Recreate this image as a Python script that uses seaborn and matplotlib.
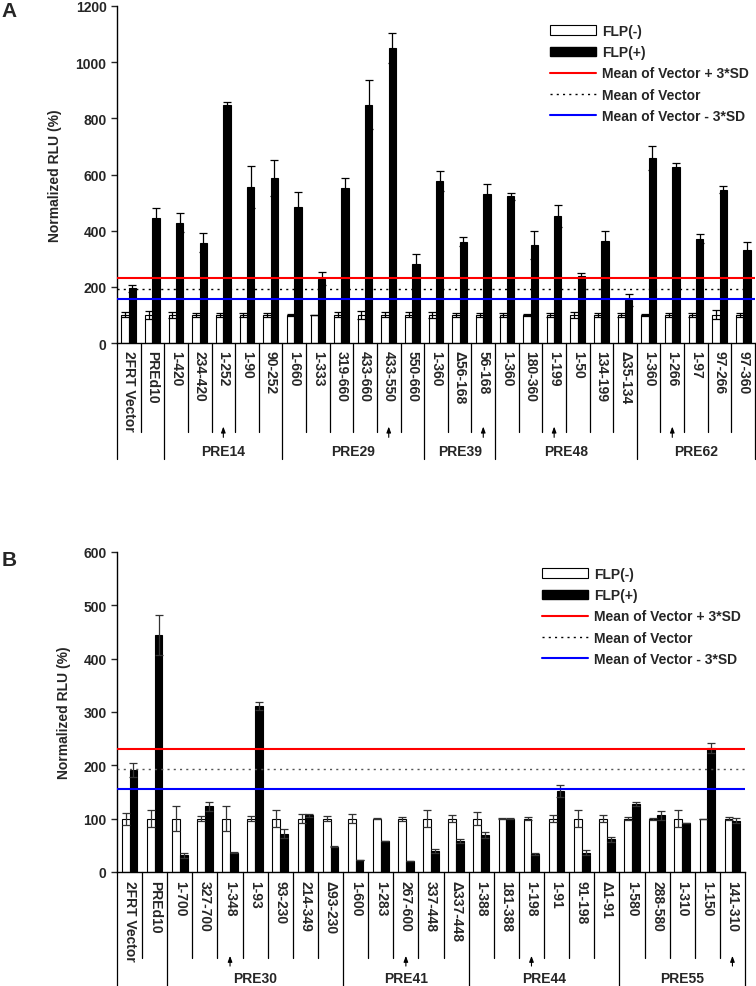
import matplotlib
matplotlib.use("Agg")
import matplotlib.pyplot as plt
import numpy as np
import pandas as pd
import seaborn as sns
from matplotlib.lines import Line2D
from matplotlib.patches import Patch

# ---- panel A data ----
A_labels = ['2FRT Vector', 'PREd10',
            '1-420', '234-420', '1-252', '1-90', '90-252',
            '1-660', '1-333', '319-660', '433-660', '433-550', '550-660',
            '1-360', 'Δ56-168', '56-168',
            '1-360', '180-360', '1-199', '1-50', '134-199', 'Δ35-134',
            '1-360', '1-266', '1-97', '97-266', '97-360']
A_groups = [('', 0, 1), ('PRE14', 2, 6), ('PRE29', 7, 12), ('PRE39', 13, 15),
            ('PRE48', 16, 21), ('PRE62', 22, 26)]
A_arrows = [4, 11, 15, 18, 23]
A_neg = [100] * 27
A_neg_sd = [9, 14, 12, 7, 7, 8, 8, 3, 1, 9, 14, 9, 9, 11, 7, 8, 8, 3, 8, 10, 8, 8, 3, 8, 8, 16, 8]
A_pos = [195, 445, 428, 357, 849, 555, 589, 484, 229, 552, 849, 1050, 282,
         576, 360, 532, 522, 350, 451, 239, 363, 152, 659, 626, 372, 546, 330]
A_pos_sd = [12, 36, 34, 33, 9, 74, 64, 55, 24, 36, 88, 54, 35,
            35, 16, 34, 13, 50, 39, 9, 37, 22, 44, 16, 17, 12, 30]

# ---- panel B data ----
B_labels = ['2FRT Vector', 'PREd10',
            '1-700', '327-700', '1-348', '1-93', '93-230', '214-349', 'Δ93-230',
            '1-600', '1-283', '267-600', '337-448', 'Δ337-448',
            '1-388', '181-388', '1-198', '1-91', '91-198', 'Δ1-91',
            '1-580', '288-580', '1-310', '1-150', '141-310']
B_groups = [('', 0, 1), ('PRE30', 2, 8), ('PRE41', 9, 13), ('PRE44', 14, 19), ('PRE55', 20, 24)]
B_arrows = [4, 11, 16, 24]
B_neg = [100] * 25
B_neg_sd = [11, 16, 24, 5, 23, 5, 16, 8, 5, 9, 1, 4, 16, 7, 12, 1, 3, 7, 16, 6, 3, 2, 16, 0, 3]
B_pos = [192, 444, 31, 123, 36, 311, 72, 106, 47, 23, 59, 20, 39, 58,
         69, 100, 33, 152, 36, 61, 127, 106, 92, 232, 96]
B_pos_sd = [13, 37, 5, 8, 1, 8, 9, 3, 1, 0, 0, 0, 4, 4, 6, 1, 2, 12, 5, 4, 4, 8, 0, 9, 5]

# vector reference lines
mean_vec = 193
mean_plus = 230
mean_minus = 155

sns.set_style('ticks')
plt.rcParams['font.family'] = ['Liberation Sans', 'DejaVu Sans']
plt.rcParams['font.weight'] = 'bold'

W, H = 756, 987
fig = plt.figure(figsize=(W / 100, H / 100), dpi=100)


def draw_panel(ax, labels, neg, neg_sd, pos, pos_sd, groups, arrows, ymax, ystep,
               ecolor, dotcolor, table):
    n = len(labels)
    df = pd.DataFrame({
        'idx': list(range(n)) * 2,
        'cond': ['FLP(-)'] * n + ['FLP(+)'] * n,
        'value': list(neg) + list(pos),
    })
    sns.barplot(data=df, x='idx', y='value', hue='cond', ax=ax,
                palette={'FLP(-)': 'white', 'FLP(+)': 'black'},
                edgecolor='black', linewidth=0.8, width=0.62, saturation=1,
                errorbar=None, legend=False)
    for cont, sd, vals in zip(ax.containers, [neg_sd, pos_sd], [neg, pos]):
        xs = [b.get_x() + b.get_width() / 2 for b in cont]
        ax.errorbar(xs, vals, yerr=sd, fmt='none', ecolor=ecolor,
                    elinewidth=0.9, capsize=2.6, capthick=0.9, zorder=3)

    ax.axhline(mean_plus, color='#ff0000', lw=1.5, zorder=4)
    ax.axhline(mean_vec, color=dotcolor, lw=1.0, ls=(0, (1.5, 3)), zorder=4)
    ax.axhline(mean_minus, color='#0000ff', lw=1.5, zorder=4)

    ax.set_xlim(-0.5, n - 0.5)
    ax.set_ylim(0, ymax)
    ax.set_yticks(np.arange(0, ymax + 1, ystep))
    ax.tick_params(axis='y', labelsize=10, length=4, width=1, direction='out')
    for t in ax.get_yticklabels():
        t.set_fontweight('bold')
    ax.set_xticks([])
    ax.set_xlabel('')
    ax.set_ylabel('Normalized RLU (%)', fontsize=10, fontweight='bold')
    sns.despine(ax=ax)
    for s in ['left', 'bottom']:
        ax.spines[s].set_linewidth(1.0)
        ax.spines[s].set_color('black')

    # label table below the axis
    short_y, long_y, text_y, arr0, arr1, grp_y = table
    trans = ax.get_xaxis_transform()
    long_pos = set()
    for name, i0, i1 in groups:
        long_pos.add(i0 - 0.5)
        long_pos.add(i1 + 0.5)
    for k in range(n + 1):
        xk = k - 0.5
        yend = long_y if xk in long_pos else short_y
        ax.plot([xk, xk], [0, yend], transform=trans, clip_on=False,
                color='black', lw=0.9)
    for i, lab in enumerate(labels):
        ax.text(i, text_y, lab, rotation=270, ha='center', va='top',
                transform=trans, fontsize=10, fontweight='bold')
    for i in arrows:
        ax.annotate('', xy=(i, arr1), xytext=(i, arr0), xycoords=trans,
                    textcoords=trans, annotation_clip=False,
                    arrowprops=dict(arrowstyle='-|>,head_length=0.35,head_width=0.13',
                                    color='black', lw=0.8, shrinkA=0, shrinkB=0))
    for name, i0, i1 in groups:
        if name:
            ax.text((i0 + i1) / 2, grp_y, name, ha='center', va='center',
                    transform=trans, fontsize=10, fontweight='bold')


def legend(y_top_px, x_px):
    handles = [Patch(facecolor='white', edgecolor='black', lw=0.8),
               Patch(facecolor='black', edgecolor='black'),
               Line2D([], [], color='#ff0000', lw=1.5),
               Line2D([], [], color='black', lw=1.0, ls=(0, (1.5, 3))),
               Line2D([], [], color='#0000ff', lw=1.5)]
    names = ['FLP(-)', 'FLP(+)', 'Mean of Vector + 3*SD', 'Mean of Vector',
             'Mean of Vector - 3*SD']
    fig.legend(handles, names, loc='upper left',
               bbox_to_anchor=(x_px / W, 1 - y_top_px / H),
               frameon=False, borderpad=0, borderaxespad=0,
               handlelength=3.3, handletextpad=0.45, labelspacing=0.52,
               prop={'size': 10, 'weight': 'bold'})


# panel A
axA = fig.add_axes([117 / W, 1 - 344 / H, 638 / W, 337 / H])
draw_panel(axA, A_labels, A_neg, A_neg_sd, A_pos, A_pos_sd, A_groups, A_arrows,
           1200, 200, 'black', 'black',
           (-0.264, -0.344, -0.022, -0.28, -0.248, -0.32))
axA.yaxis.set_label_coords(-0.086, 0.5)
legend(25, 550)
fig.text(0.002, 1 - 2 / H, 'A', fontsize=15, fontweight='bold', va='top')

# panel B
axB = fig.add_axes([117 / W, 1 - 873 / H, 628 / W, 320 / H])
draw_panel(axB, B_labels, B_neg, B_neg_sd, B_pos, B_pos_sd, B_groups, B_arrows,
           600, 100, '#333333', '#555555',
           (-0.269, -0.36, -0.025, -0.294, -0.262, -0.33))
axB.yaxis.set_label_coords(-0.074, 0.5)
legend(568, 542)
fig.text(0.002, 1 - 551 / H, 'B', fontsize=15, fontweight='bold', va='top')

fig.savefig('out.png', dpi=100)
